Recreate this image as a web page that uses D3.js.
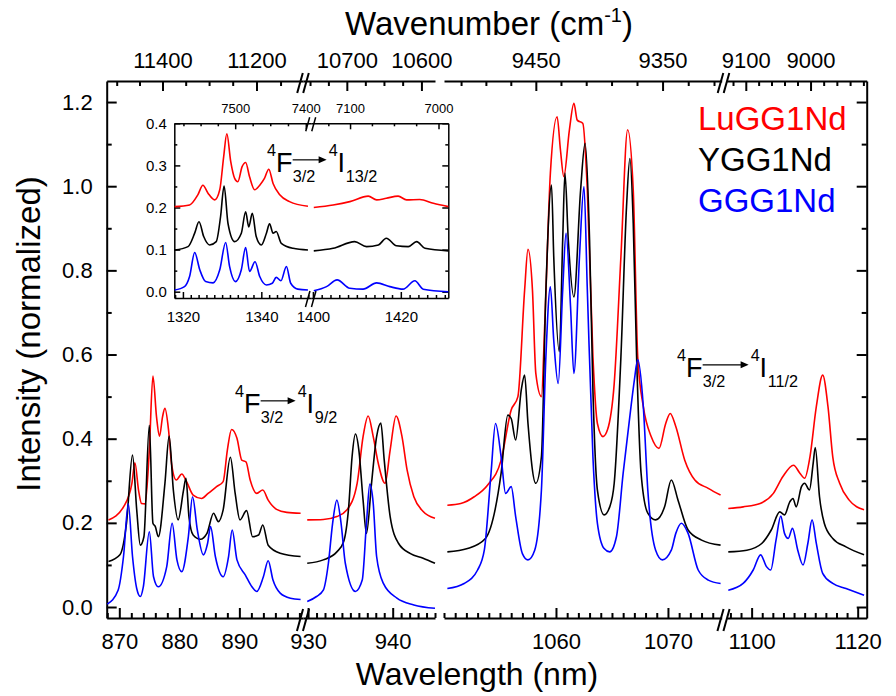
<!DOCTYPE html>
<html>
<head>
<meta charset="utf-8">
<script src="https://d3js.org/d3.v7.min.js"></script>
<style>
  body { margin: 0; background: #fff; }
  svg text { font-family: Arial, "Liberation Sans", sans-serif; fill: #000; }
</style>
</head>
<body>
<div id="chart"></div>
<script>
// ---------------- data: [wavelength nm, normalized intensity] ----------------
// LuGG1Nd (red)
var luA = [[868.2,0.207],[870.7,0.238],[872.1,0.294],[872.6,0.343],[873.2,0.278],[873.7,0.246],[874.3,0.245],[875.0,0.373],[875.6,0.549],[876.2,0.452],[876.7,0.406],[877.2,0.452],[877.6,0.472],[878.2,0.421],[878.7,0.341],[879.5,0.302],[880.4,0.316],[881.2,0.298],[882.3,0.266],[883.7,0.258],[884.8,0.270],[886.2,0.286],[887.3,0.298],[888.0,0.373],[888.7,0.422],[889.6,0.401],[890.4,0.349],[891.1,0.345],[891.8,0.302],[892.9,0.270],[893.9,0.278],[894.8,0.254],[896.2,0.232],[897.9,0.225],[900.2,0.223]];
var luB = [[929.9,0.207],[931.8,0.208],[933.4,0.215],[934.6,0.231],[935.8,0.294],[936.5,0.405],[937.1,0.454],[937.7,0.405],[938.3,0.341],[939.1,0.294],[939.7,0.373],[940.4,0.454],[941.1,0.405],[941.7,0.326],[942.5,0.262],[943.6,0.227],[945.0,0.211]];
var luC = [[1050.3,0.242],[1051.5,0.246],[1052.7,0.262],[1053.9,0.290],[1055.1,0.349],[1056.0,0.468],[1056.6,0.500],[1057.2,0.753],[1057.5,0.850],[1057.9,0.753],[1058.2,0.555],[1058.7,0.500],[1059.0,0.674],[1059.5,1.031],[1060.1,1.165],[1060.4,1.086],[1060.7,1.023],[1061.2,1.134],[1061.6,1.197],[1061.9,1.157],[1062.4,1.149],[1062.8,0.991],[1063.3,0.595],[1063.7,0.436],[1064.2,0.405],[1064.6,0.421],[1065.2,0.531],[1065.8,0.833],[1066.4,1.134],[1066.9,0.991],[1067.3,0.595],[1067.8,0.476],[1068.5,0.405],[1069.2,0.377],[1069.8,0.436],[1070.2,0.460],[1070.7,0.429],[1071.5,0.349],[1072.4,0.302],[1073.6,0.282],[1074.7,0.266]];
var luD = [[1095.6,0.234],[1098.4,0.238],[1101.6,0.246],[1104.1,0.270],[1105.9,0.310],[1107.9,0.337],[1109.1,0.318],[1110.0,0.306],[1111.0,0.357],[1112.2,0.476],[1113.4,0.551],[1114.4,0.476],[1115.3,0.357],[1116.6,0.294],[1118.4,0.254],[1121.2,0.231]];
var luInA = [[1317.9,0.202],[1321.7,0.206],[1323.8,0.230],[1325.1,0.253],[1326.4,0.234],[1328.1,0.218],[1329.4,0.242],[1330.4,0.321],[1331.2,0.375],[1332.2,0.309],[1333.2,0.269],[1334.0,0.261],[1335.1,0.297],[1336.0,0.307],[1337.0,0.273],[1338.3,0.242],[1339.6,0.253],[1340.8,0.269],[1341.9,0.291],[1343.0,0.257],[1344.7,0.230],[1347.2,0.214],[1351.9,0.203]];
var luInB = [[1400.2,0.200],[1404.6,0.206],[1408.4,0.214],[1412.6,0.227],[1414.5,0.218],[1416.7,0.222],[1419.4,0.227],[1421.3,0.218],[1424.3,0.219],[1427.4,0.210],[1430.8,0.202]];

// YGG1Nd (black)
var ygA = [[868.2,0.108],[870.1,0.124],[871.2,0.199],[872.2,0.361],[872.9,0.231],[873.5,0.147],[874.1,0.167],[875.0,0.432],[875.6,0.199],[876.0,0.191],[876.5,0.167],[877.6,0.294],[878.3,0.406],[879.0,0.278],[879.8,0.207],[880.7,0.278],[881.1,0.306],[881.6,0.215],[882.3,0.171],[883.5,0.161],[884.6,0.175],[885.7,0.223],[886.5,0.203],[887.3,0.231],[888.5,0.356],[889.3,0.270],[890.1,0.207],[891.2,0.229],[892.2,0.167],[893.2,0.171],[893.9,0.195],[894.8,0.147],[896.8,0.128],[900.2,0.120]];
var ygB = [[929.9,0.104],[931.8,0.112],[933.4,0.131],[934.2,0.155],[934.8,0.238],[935.2,0.357],[935.6,0.411],[936.0,0.373],[936.5,0.254],[936.9,0.175],[937.5,0.294],[938.1,0.405],[938.6,0.437],[939.0,0.349],[939.7,0.215],[940.7,0.151],[942.1,0.127],[943.6,0.116],[945.0,0.104]];
var ygC = [[1050.3,0.131],[1052.1,0.139],[1053.7,0.163],[1055.1,0.318],[1055.7,0.456],[1056.0,0.448],[1056.4,0.397],[1056.9,0.516],[1057.2,0.551],[1057.5,0.436],[1058.2,0.294],[1058.7,0.357],[1059.1,0.753],[1059.6,1.003],[1059.8,0.833],[1060.3,0.607],[1060.6,0.872],[1060.8,1.031],[1061.1,0.872],[1061.6,0.737],[1062.2,0.991],[1062.6,1.102],[1063.0,0.872],[1063.3,0.516],[1063.7,0.278],[1064.3,0.219],[1064.8,0.238],[1065.2,0.294],[1065.8,0.595],[1066.3,0.951],[1066.6,1.066],[1066.9,0.912],[1067.2,0.595],[1067.6,0.318],[1068.2,0.223],[1068.9,0.207],[1069.7,0.238],[1070.3,0.302],[1070.9,0.254],[1071.8,0.183],[1073.0,0.159],[1074.7,0.147]];
var ygD = [[1095.6,0.131],[1099.1,0.135],[1101.9,0.151],[1103.7,0.183],[1105.3,0.226],[1106.2,0.219],[1107.2,0.250],[1107.8,0.258],[1108.4,0.238],[1109.4,0.286],[1110.0,0.294],[1110.9,0.278],[1111.6,0.341],[1112.0,0.379],[1112.8,0.262],[1113.7,0.199],[1115.3,0.163],[1117.8,0.143],[1121.2,0.124]];
var ygInA = [[1317.9,0.099],[1321.3,0.107],[1323.0,0.139],[1324.1,0.166],[1325.3,0.131],[1326.8,0.111],[1328.5,0.119],[1329.6,0.178],[1330.5,0.251],[1331.5,0.162],[1333.2,0.119],[1334.9,0.139],[1336.0,0.190],[1336.8,0.154],[1337.7,0.186],[1338.7,0.131],[1340.0,0.111],[1341.3,0.139],[1342.1,0.161],[1343.0,0.139],[1343.8,0.143],[1345.1,0.115],[1348.1,0.103],[1351.9,0.099]];
var ygInB = [[1400.2,0.097],[1404.6,0.103],[1409.5,0.119],[1412.2,0.107],[1414.9,0.111],[1416.7,0.127],[1419.0,0.109],[1421.7,0.107],[1423.6,0.119],[1425.5,0.103],[1430.8,0.097]];

// GGG1Nd (blue)
var ggA = [[868.0,0.007],[869.8,0.040],[870.7,0.120],[871.5,0.245],[872.2,0.120],[872.9,0.044],[873.5,0.025],[874.0,0.048],[875.0,0.179],[875.7,0.072],[876.5,0.048],[877.9,0.096],[878.8,0.199],[879.6,0.112],[880.4,0.084],[881.5,0.167],[882.2,0.262],[883.0,0.183],[884.0,0.124],[884.7,0.151],[885.2,0.191],[886.0,0.120],[887.3,0.072],[888.2,0.120],[888.8,0.183],[889.6,0.112],[891.0,0.076],[892.1,0.048],[892.9,0.037],[894.0,0.072],[894.8,0.110],[895.6,0.064],[896.8,0.033],[898.5,0.021],[900.2,0.018]];
var ggB = [[929.9,0.013],[931.0,0.025],[931.8,0.040],[932.4,0.104],[932.9,0.199],[933.4,0.254],[933.9,0.199],[934.4,0.104],[935.6,0.037],[936.4,0.064],[936.9,0.199],[937.3,0.292],[937.7,0.246],[938.1,0.120],[938.9,0.056],[940.5,0.021],[942.5,0.005],[945.0,-0.003]];
var ggC = [[1050.3,0.044],[1051.8,0.056],[1053.0,0.088],[1053.6,0.135],[1054.2,0.318],[1054.6,0.436],[1055.1,0.357],[1055.5,0.270],[1056.0,0.286],[1056.4,0.215],[1057.0,0.127],[1057.5,0.112],[1058.1,0.135],[1058.7,0.278],[1059.1,0.595],[1059.5,0.761],[1059.8,0.634],[1060.2,0.531],[1060.6,0.753],[1060.9,0.888],[1061.3,0.714],[1061.6,0.555],[1062.1,0.833],[1062.5,0.999],[1062.8,0.753],[1063.3,0.357],[1063.7,0.199],[1064.3,0.139],[1064.8,0.131],[1065.4,0.167],[1066.0,0.318],[1066.7,0.476],[1067.0,0.539],[1067.3,0.588],[1067.8,0.476],[1068.2,0.278],[1068.9,0.135],[1069.5,0.112],[1070.3,0.135],[1070.7,0.175],[1071.2,0.199],[1071.8,0.175],[1072.7,0.088],[1073.6,0.064],[1074.7,0.056]];
var ggD = [[1095.6,0.040],[1098.4,0.056],[1100.3,0.088],[1101.7,0.124],[1102.8,0.096],[1103.6,0.088],[1104.6,0.159],[1105.5,0.216],[1106.2,0.175],[1106.9,0.163],[1107.7,0.187],[1108.7,0.135],[1109.7,0.100],[1110.6,0.151],[1111.4,0.207],[1112.2,0.151],[1113.4,0.080],[1115.3,0.056],[1117.8,0.044],[1121.2,0.028]];
var ggInA = [[1317.9,0.004],[1320.4,0.012],[1321.7,0.036],[1323.0,0.093],[1324.3,0.052],[1325.8,0.024],[1327.7,0.021],[1329.4,0.052],[1330.9,0.117],[1331.9,0.060],[1333.4,0.024],[1334.9,0.052],[1336.0,0.105],[1337.0,0.048],[1338.4,0.071],[1339.6,0.036],[1341.3,0.016],[1342.8,0.020],[1343.8,0.034],[1345.0,0.026],[1346.4,0.060],[1347.5,0.020],[1349.3,0.006],[1351.9,0.004]];
var ggInB = [[1400.2,0.002],[1403.1,0.012],[1405.5,0.028],[1408.4,0.008],[1411.4,0.006],[1414.5,0.021],[1417.5,0.012],[1420.5,0.006],[1423.2,0.026],[1425.1,0.006],[1430.8,0.000]];

var seriesNames = ['LuGG1Nd', 'YGG1Nd', 'GGG1Nd'];
var seriesColors = ['#ff0000', '#000000', '#0000ff'];

// tick values
var nmMajor = [[870, 880, 890], [930, 940], [1060, 1070], [1100, 1120]];
var nmMinorStep = [2, 1, 1, 2];
var wnMajor = [[11400, 11200], [10700, 10600], [9450, 9350], [9100, 9000]];
var wnMinorStep = [50, 25, 20, 20];
var yMajor = [0, 0.2, 0.4, 0.6, 0.8, 1.0, 1.2];
var yMinor = [0.1, 0.3, 0.5, 0.7, 0.9, 1.1];

var inNmMajor = [[1320, 1340], [1400, 1420]];
var inWnMajor = [[7500, 7400], [7100, 7000]];
var inYMajor = [0, 0.1, 0.2, 0.3, 0.4];
var inYMinor = [0.05, 0.15, 0.25, 0.35];

// ---------------- layout ----------------
var W = 896, H = 696;
var svg = d3.select('#chart').append('svg').attr('width', W).attr('height', H);

var plotTop = 81, plotBottom = 618, plotLeft = 106.7, plotRight = 866.7;
var y = d3.scaleLinear().domain([-0.0261, 1.25]).range([plotBottom, plotTop]);

// broken wavelength axis: one linear scale per piece
var segDom = [[867.9, 900.6], [929.4, 945.0], [1050.0, 1074.8], [1095.3, 1121.7]];
var segRng = [[plotLeft, 303], [303, 435], [444, 721.7], [726.7, plotRight]];
var xs = segDom.map(function(d, i) { return d3.scaleLinear().domain(d).range(segRng[i]); });

// inset
var inTop = 123.3, inBottom = 298, inLeft = 174.3, inRight = 448.3;
var yIn = d3.scaleLinear().domain([-0.015, 0.4]).range([inBottom, inTop]);
var inDom = [[1317.8, 1352.6], [1399.5, 1430.8]];
var inRng = [[inLeft, 310.7], [310.7, inRight]];
var xsIn = inDom.map(function(d, i) { return d3.scaleLinear().domain(d).range(inRng[i]); });

function minorVals(dom, step, anchor) {
  var lo = Math.min(dom[0], dom[1]), hi = Math.max(dom[0], dom[1]);
  var s = anchor - Math.floor((anchor - lo) / step) * step;
  return d3.range(s, hi + 1e-9, step);
}
function notIn(list) {
  return function(v) { return !list.some(function(m) { return Math.abs(m - v) < 1e-6; }); };
}

function styleAxis(g, sw, fs) {
  g.selectAll('g').attr('font-family', 'Arial, "Liberation Sans", sans-serif').attr('font-size', fs);
  g.selectAll('path, line').attr('stroke', '#000').attr('stroke-width', sw);
  g.selectAll('text').attr('fill', '#000');
}

// bottom / top axes on a list of scales
function drawXAxes(scales, yB, yT, majors, minorSteps, wnMaj, wnMinSteps, o) {
  scales.forEach(function(sc, i) {
    var dom = sc.domain();
    var mins = minorVals(dom, minorSteps[i], majors[i][0]).filter(notIn(majors[i]));
    var gb = svg.append('g').attr('transform', 'translate(0,' + yB + ')');
    gb.append('g').call(d3.axisBottom(sc).tickValues(mins).tickSize(-o.small).tickSizeOuter(0).tickFormat(''));
    gb.append('g').call(d3.axisBottom(sc).tickValues(majors[i]).tickSize(-o.big).tickSizeOuter(0)
      .tickPadding(o.padB).tickFormat(d3.format('d')))
      .select('.domain').remove();
    styleAxis(gb, o.sw, o.fsB);

    // top axis: same wavelength scale, ticks placed at 1e7 / wavenumber
    var wlo = 1e7 / dom[1], whi = 1e7 / dom[0];
    var wmins = minorVals([wlo, whi], wnMinSteps[i], wnMaj[i][0]).filter(notIn(wnMaj[i]));
    var gt = svg.append('g').attr('transform', 'translate(0,' + yT + ')');
    gt.append('g').call(d3.axisTop(sc).tickValues(wmins.map(function(w) { return 1e7 / w; }))
      .tickSize(-o.small).tickSizeOuter(0).tickFormat(''));
    gt.append('g').call(d3.axisTop(sc).tickValues(wnMaj[i].map(function(w) { return 1e7 / w; }))
      .tickSize(-o.big).tickSizeOuter(0).tickPadding(o.padT)
      .tickFormat(function(d) { return Math.round(1e7 / d); }))
      .select('.domain').remove();
    styleAxis(gt, o.sw, o.fsT);
  });
}

function drawYAxes(sc, xL, xR, majors, minors, o) {
  var gl = svg.append('g').attr('transform', 'translate(' + xL + ',0)');
  gl.append('g').call(d3.axisLeft(sc).tickValues(minors).tickSize(-o.small).tickSizeOuter(0).tickFormat(''));
  gl.append('g').call(d3.axisLeft(sc).tickValues(majors).tickSize(-o.big).tickSizeOuter(0)
    .tickPadding(o.padL).tickFormat(d3.format('.1f'))).select('.domain').remove();
  styleAxis(gl, o.sw, o.fsL);
  var gr = svg.append('g').attr('transform', 'translate(' + xR + ',0)');
  gr.append('g').call(d3.axisRight(sc).tickValues(minors).tickSize(-o.small).tickSizeOuter(0).tickFormat(''));
  gr.append('g').call(d3.axisRight(sc).tickValues(majors).tickSize(-o.big).tickSizeOuter(0).tickFormat(''))
    .select('.domain').remove();
  styleAxis(gr, o.sw, o.fsL);
}

// "//" break marks
function breakMark(x, yy, h, sw) {
  [-3, 3].forEach(function(dx) {
    svg.append('line')
      .attr('x1', x + dx - h * 0.28).attr('y1', yy + h)
      .attr('x2', x + dx + h * 0.28).attr('y2', yy - h)
      .attr('stroke', '#000').attr('stroke-width', sw);
  });
}

// ---------------- main axes ----------------
drawXAxes(xs, plotBottom, plotTop, nmMajor, nmMinorStep, wnMajor, wnMinorStep,
  {big: 10, small: 5, sw: 2, fsB: 22, fsT: 22, padB: 15, padT: 13});
drawYAxes(y, plotLeft, plotRight, yMajor, yMinor, {big: 10, small: 5, sw: 2, fsL: 22, padL: 14});
[303, 723.5].forEach(function(bx) {
  breakMark(bx, plotBottom + 2, 11, 2);
  breakMark(bx, plotTop + 2, 10, 2);
});

// ---------------- main curves ----------------
var mainSets = [[luA, luB, luC, luD], [ygA, ygB, ygC, ygD], [ggA, ggB, ggC, ggD]];
mainSets.forEach(function(set, k) {
  set.forEach(function(data, i) {
    var line = d3.line()
      .x(function(d) { return xs[i](d[0]); })
      .y(function(d) { return y(d[1]); })
      .curve(d3.curveMonotoneX);
    svg.append('path').datum(data)
      .attr('d', line)
      .attr('fill', 'none')
      .attr('stroke', seriesColors[k])
      .attr('stroke-width', 1.6)
      .attr('stroke-linejoin', 'round');
  });
});

// ---------------- inset ----------------
drawXAxes(xsIn, inBottom, inTop, inNmMajor, [2, 2], inWnMajor, [25, 25],
  {big: 6, small: 3, sw: 1.5, fsB: 15, fsT: 13, padB: 13, padT: 10});
drawYAxes(yIn, inLeft, inRight, inYMajor, inYMinor, {big: 6, small: 3, sw: 1.5, fsL: 15, padL: 7.5});
breakMark(310.7, inBottom + 1, 8, 1.5);
breakMark(310.7, inTop + 1, 7, 1.5);

var inSets = [[luInA, luInB], [ygInA, ygInB], [ggInA, ggInB]];
inSets.forEach(function(set, k) {
  set.forEach(function(data, i) {
    var line = d3.line()
      .x(function(d) { return xsIn[i](d[0]); })
      .y(function(d) { return yIn(d[1]); })
      .curve(d3.curveMonotoneX);
    svg.append('path').datum(data)
      .attr('d', line)
      .attr('fill', 'none')
      .attr('stroke', seriesColors[k])
      .attr('stroke-width', 1.6)
      .attr('stroke-linejoin', 'round');
  });
});

// ---------------- legend ----------------
seriesNames.forEach(function(n, i) {
  svg.append('text').attr('x', 698).attr('y', 130 + i * 41)
    .attr('font-size', 33).style('fill', seriesColors[i]).text(n);
});

// ---------------- transition labels ----------------
function transition(x0, yb, fs, lower, arrowLen) {
  var g = svg.append('g');
  var sfs = fs * 0.6;
  g.append('text').attr('x', x0).attr('y', yb - fs * 0.6).attr('font-size', sfs).text('4');
  g.append('text').attr('x', x0 + sfs * 0.55).attr('y', yb).attr('font-size', fs).text('F');
  var xs0 = x0 + sfs * 0.55 + fs * 0.62;
  g.append('text').attr('x', xs0).attr('y', yb + fs * 0.38).attr('font-size', sfs).text('3/2');
  var ay = yb - fs * 0.45, ax1 = xs0 + arrowLen;
  g.append('line').attr('x1', xs0).attr('x2', ax1 - 5).attr('y1', ay).attr('y2', ay)
    .attr('stroke', '#000').attr('stroke-width', 1.2);
  g.append('path').attr('d', 'M' + ax1 + ',' + ay + 'l-8,-3.5l0,7z').attr('fill', '#000');
  var x2 = ax1 + 2;
  g.append('text').attr('x', x2).attr('y', yb - fs * 0.6).attr('font-size', sfs).text('4');
  g.append('text').attr('x', x2 + sfs * 0.55).attr('y', yb).attr('font-size', fs).text('I');
  g.append('text').attr('x', x2 + sfs * 0.55 + fs * 0.3).attr('y', yb + fs * 0.38)
    .attr('font-size', sfs).text(lower);
}
transition(235, 413, 27, '9/2', 35);
transition(267, 172, 27, '13/2', 34);
transition(677, 377, 27, '11/2', 46);

// ---------------- axis titles ----------------
svg.append('text').attr('x', 477).attr('y', 685).attr('text-anchor', 'middle')
  .attr('font-size', 32).text('Wavelength (nm)');
var wt = svg.append('text').attr('x', 345).attr('y', 35).attr('font-size', 33);
wt.append('tspan').text('Wavenumber (cm');
wt.append('tspan').attr('font-size', 20).attr('dy', -13).text('-1');
wt.append('tspan').attr('dy', 13).text(')');
svg.append('text')
  .attr('transform', 'translate(40,334) rotate(-90)')
  .attr('text-anchor', 'middle').attr('font-size', 33).text('Intensity (normalized)');
</script>
</body>
</html>
